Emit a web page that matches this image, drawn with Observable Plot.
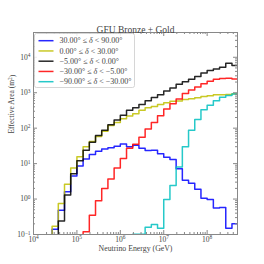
<!DOCTYPE html>
<html><head><meta charset="utf-8">
<script src="https://cdn.jsdelivr.net/npm/d3@7"></script>
<script src="https://cdn.jsdelivr.net/npm/@observablehq/plot@0.6"></script>
<style>body{margin:0;background:#fff} svg{display:block}</style>
</head><body><div id="chart"></div>
<script>
// histogram bins: 7 per decade starting at 10^4 GeV
const binsPerDecade = 7;
const firstExp = 4;
const labels = ["30.00° ≤ δ < 90.00°", "0.00° ≤ δ < 30.00°", "−5.00° ≤ δ < 0.00°", "−30.00° ≤ δ < −5.00°", "−90.00° ≤ δ < −30.00°"];
const colors = ["#0000ff", "#bfbf00", "#000000", "#ff0000", "#00bfbf"];
// effective area (m^2) per bin; 0.01 = below the axis
const blue   = [0.01,0.01,0.01,0.14,0.48,1.6,4.5,8.5,13.5,18,22.5,26,28,31,36,30,33,27,23.5,24,19,15,13,7.2,3.4,2.8,1.9,1.05,0.97,0.56,0.58,0.15,0.2];
const yellow = [0.01,0.01,0.01,0.17,0.75,2.6,7.5,15.5,30,42,58,82,118,145,185,220,256,318,378,411,468,520,570,580,646,676,724,787,822,874,874,896,934];
const black  = [0.01,0.01,0.01,0.01,0.24,1.3,5.2,12,24,40,62,87,125,170,230,320,378,468,590,730,880,1120,1360,1730,2050,2400,2850,3600,4250,4700,5200,6800,5900];
const red    = [0.01,0.01,0.01,0.01,0.01,0.01,0.01,0.01,0.12,0.35,0.9,2.0,3.7,7.5,14,27,35,55,95,145,225,350,490,670,950,1200,1450,1780,2100,2400,2500,2550,2450];
const cyan   = [0.01,0.01,0.01,0.01,0.01,0.01,0.01,0.01,0.01,0.01,0.01,0.01,0.01,0.01,0.01,0.01,0.102,0.102,0.16,0.19,0.15,0.97,2.4,8,30,87,175,330,440,590,750,830,920];
const seriesValues = [blue, yellow, black, red, cyan];
const xMajor = [1e4, 1e5, 1e6, 1e7, 1e8];
const yMajor = [1e-1, 1e0, 1e1, 1e2, 1e3, 1e4];
const title = "GFU Bronze + Gold";
const xLabel = "Neutrino Energy (GeV)";
const yLabel = "Effective Area (m^2)";

const W = 264, H = 264, mL = 33, mR = 27, mT = 32, mB = 30;
const fw = W - mL - mR, fh = H - mT - mB;
const xDomain = [1e4, 5e8], yDomain = [0.1, 5e4];

const edge = k => Math.pow(10, firstExp + k / binsPerDecade);
const tables = seriesValues.map(vals => {
  const t = vals.map((v, k) => ({x: edge(k), y: v}));
  t.push({x: edge(vals.length), y: vals[vals.length - 1]});
  return t;
});
const minor = (lo, hi, max) => {
  const out = [];
  for (let e = lo; e <= hi; e++) for (let m = 2; m <= 9; m++) { const v = m * Math.pow(10, e); if (v < max) out.push(v); }
  return out;
};
const xMinor = minor(4, 8, xDomain[1]);
const yMinor = minor(-1, 4, yDomain[1]);
const expOf = d => Math.round(Math.log10(d));
const fmt = d => "10^" + String(expOf(d)).replace("-", "−");
const tc = "#888", txt = "#444", font = "Liberation Serif, Times New Roman, serif";

const marks = [
  ...tables.map((t, i) => Plot.line(t, {x: "x", y: "y", curve: "step-after", stroke: colors[i], strokeWidth: 1.5, strokeOpacity: 0.85, clip: true})),
  Plot.tickX(xMajor, {x: d => d, insetTop: fh - 4, stroke: tc}),
  Plot.tickX(xMajor, {x: d => d, insetBottom: fh - 4, stroke: tc}),
  Plot.tickX(xMinor, {x: d => d, insetTop: fh - 2, stroke: tc}),
  Plot.tickX(xMinor, {x: d => d, insetBottom: fh - 2, stroke: tc}),
  Plot.tickY(yMajor, {y: d => d, insetRight: fw - 4, stroke: tc}),
  Plot.tickY(yMajor, {y: d => d, insetLeft: fw - 4, stroke: tc}),
  Plot.tickY(yMinor, {y: d => d, insetRight: fw - 2, stroke: tc}),
  Plot.tickY(yMinor, {y: d => d, insetLeft: fw - 2, stroke: tc}),
  Plot.frame({stroke: tc, strokeWidth: 1}),
  Plot.text(xMajor, {x: d => d, frameAnchor: "bottom", dy: 7, text: fmt, fill: txt, fontSize: 7.5, ariaLabel: "xtl"}),
  Plot.text(yMajor, {y: d => d, frameAnchor: "left", dx: -3, textAnchor: "end", text: fmt, fill: txt, fontSize: 7.5, ariaLabel: "ytl"}),
  Plot.text([title], {frameAnchor: "top", dy: -6.5, text: d => d, fill: txt, fontSize: 9.5}),
  Plot.text([xLabel], {frameAnchor: "bottom", dy: 16, text: d => d, fill: txt, fontSize: 7.8}),
  Plot.text([yLabel], {frameAnchor: "left", dx: -21.5, rotate: -90, text: d => d, fill: txt, fontSize: 7.5, ariaLabel: "ylab"})
];

const plot = Plot.plot({
  width: W, height: H, marginLeft: mL, marginRight: mR, marginTop: mT, marginBottom: mB,
  x: {type: "log", domain: xDomain, axis: null},
  y: {type: "log", domain: yDomain, axis: null},
  style: {fontFamily: font, background: "#fff"},
  marks
});
document.getElementById("chart").appendChild(plot);

const svg = d3.select(plot);
// superscripts in tick labels and y label
svg.selectAll("text").each(function() {
  const t = this.textContent;
  if (t.includes("^")) {
    const [b, e] = t.split("^");
    const sel = d3.select(this);
    if (e.length > 1 && e.endsWith(")")) {
      sel.text(b);
      sel.append("tspan").attr("dy", "-0.4em").attr("font-size", "72%").text(e.slice(0, -1));
      sel.append("tspan").attr("dy", "0.4em").text(")");
    } else {
      sel.text(b);
      sel.append("tspan").attr("dy", "-0.42em").attr("font-size", "72%").text(e);
    }
  }
});

// legend
const lg = svg.append("g").attr("font-family", font).attr("font-size", 8).attr("fill", txt).attr("text-anchor", "start");
lg.append("rect").attr("x", mL + 1.5).attr("y", mT + 1.5).attr("width", 100).attr("height", 54)
  .attr("rx", 2).attr("fill", "#fff").attr("fill-opacity", 0.85).attr("stroke", "#ccc").attr("stroke-width", 0.8);
labels.forEach((l, i) => {
  const y = mT + 8.7 + i * 10.25;
  lg.append("line").attr("x1", mL + 5.5).attr("x2", mL + 20.5).attr("y1", y).attr("y2", y)
    .attr("stroke", colors[i]).attr("stroke-width", 1.5).attr("stroke-opacity", 0.85);
  const [a, b] = l.split("δ");
  const t = lg.append("text").attr("x", mL + 26.5).attr("y", y).attr("dy", "0.33em").attr("text-anchor", "start");
  t.append("tspan").text(a);
  t.append("tspan").attr("font-style", "italic").text("δ");
  t.append("tspan").text(b);
});
</script></body></html>
